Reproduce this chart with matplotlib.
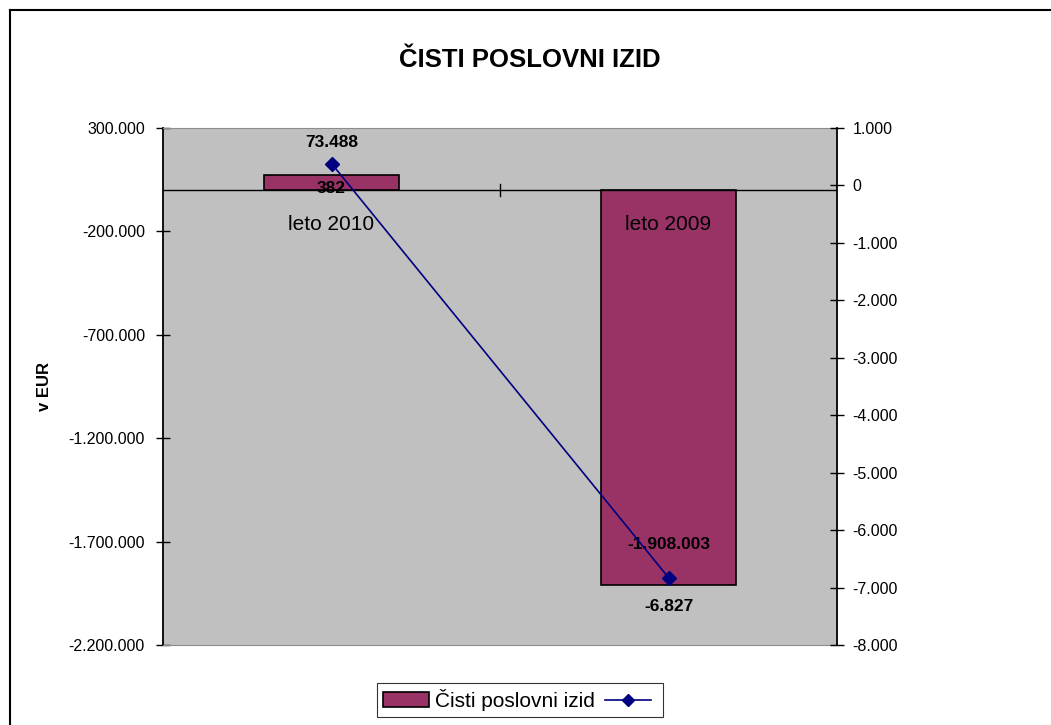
import numpy as np
import matplotlib
matplotlib.use('Agg')
import matplotlib.pyplot as plt
from matplotlib.lines import Line2D
from matplotlib.patches import Patch
from matplotlib.ticker import FuncFormatter, MultipleLocator

plt.rcParams['font.family'] = ['Liberation Sans', 'DejaVu Sans']

# Podatki
kategorije = ['leto 2010', 'leto 2009']
izid_eur = [73488, -1908003]        # stolpci, leva os
izid_line = [382, -6827]            # črta, desna os
naslov = 'ČISTI POSLOVNI IZID'
legenda_ime = 'Čisti poslovni izid'


def fmt_si(v, pos=None):
    s = f'{int(round(v)):,}'.replace(',', '.')
    return s


fig = plt.figure(figsize=(10.51, 7.25), dpi=100)
ax = fig.add_axes([163 / 1051, 1 - 645 / 725, (837 - 163) / 1051, (645 - 128) / 725])
ax.set_facecolor('#C0C0C0')

x = np.arange(len(kategorije))
bar_color = '#993366'
ax.bar(x, izid_eur, width=0.4, color=bar_color, edgecolor='black', linewidth=1.2, zorder=2)
ax.set_xlim(-0.5, 1.5)
ax.set_ylim(-2200000, 300000)
ax.set_yticks(np.arange(-2200000, 300001, 500000))
ax.yaxis.set_major_formatter(FuncFormatter(fmt_si))
ax.set_xticks([])
ax.axhline(0, color='black', linewidth=1, zorder=3)
# srednja kljukica na osi x
ax.plot([0.5, 0.5], [-30000, 30000], color='black', linewidth=1, zorder=3)

ax.tick_params(axis='y', direction='inout', length=10, width=1, labelsize=11.5, pad=8)
ax.set_ylabel('v EUR', fontsize=12, fontweight='bold', labelpad=12)
for s in ['top', 'bottom']:
    ax.spines[s].set_color('#8c8c8c')
ax.spines['left'].set_color('black')
ax.spines['left'].set_linewidth(1.3)
ax.spines['right'].set_visible(False)

ax2 = ax.twinx()
ax2.plot(x, izid_line, color='#000080', linewidth=1.2, marker='D', markersize=7, zorder=4)
ax2.set_ylim(-8000, 1000)
ax2.yaxis.set_major_locator(MultipleLocator(1000))
ax2.yaxis.set_major_formatter(FuncFormatter(fmt_si))
ax2.tick_params(axis='y', direction='inout', length=10, width=1, labelsize=11.5, pad=6)
ax2.spines['right'].set_color('black')
ax2.spines['right'].set_linewidth(1.3)
ax2.spines['left'].set_visible(False)
for s in ['top', 'bottom']:
    ax2.spines[s].set_visible(False)

# oznake kategorij pod osjo
for xi, k in zip(x, kategorije):
    ax.annotate(k, (xi, 0), xytext=(0, -34), textcoords='offset pixels',
                ha='center', va='center', fontsize=15, zorder=5)

# oznake vrednosti
bar_off = [32, 40]
for xi, v, off in zip(x, izid_eur, bar_off):
    ax.annotate(fmt_si(v), (xi, v), xytext=(0, off), textcoords='offset pixels',
                ha='center', va='center', fontsize=12.5, fontweight='bold', zorder=6)
line_off = [-25, -29]
for xi, v, off in zip(x, izid_line, line_off):
    ax2.annotate(fmt_si(v), (xi, v), xytext=(0, off), textcoords='offset pixels',
                 ha='center', va='center', fontsize=12.5, fontweight='bold', zorder=6)

fig.text(530 / 1051, 1 - 60 / 725, naslov, ha='center', va='center',
         fontsize=18.5, fontweight='bold')

handles = [Patch(facecolor=bar_color, edgecolor='black', linewidth=1.2),
           Line2D([], [], color='#000080', marker='D', markersize=6, linewidth=1.2)]
leg = fig.legend(handles, [legenda_ime, ''], loc='center', ncol=2,
                 bbox_to_anchor=(520 / 1051, 1 - 700 / 725), frameon=True, fancybox=False,
                 edgecolor='black', fontsize=15, handlelength=2.2, handletextpad=0.3,
                 columnspacing=0.5, borderpad=0.3)
leg.get_frame().set_linewidth(0.8)

# okvir slike
fig.add_artist(Line2D([10 / 1051, 10 / 1051], [0, 1 - 10 / 725], color='black', linewidth=1.5))
fig.add_artist(Line2D([10 / 1051, 1], [1 - 10 / 725, 1 - 10 / 725], color='black', linewidth=1.5))

fig.savefig('out.png', dpi=100)
